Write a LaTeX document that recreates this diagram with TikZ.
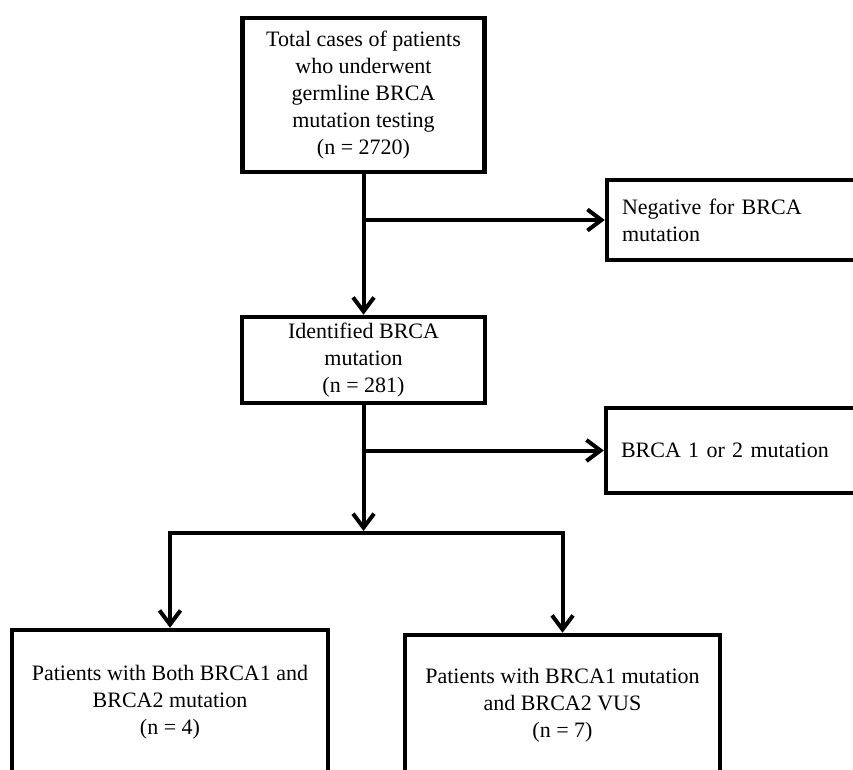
\documentclass[tikz,border=0pt]{standalone}
\usepackage{fontspec}
\setmainfont{Liberation Serif}
\usetikzlibrary{arrows.meta, positioning}

\begin{document}
\begin{tikzpicture}[x=1pt, y=-1pt,
	box/.style={draw, line width=4.5pt, rectangle, align=center, inner sep=0pt, font=\fontsize{22}{27}\selectfont},
	sidebox/.style={box, align=left, inner xsep=15pt, text width=233pt, minimum width=263pt},
	arr/.style={line width=4pt, -{Straight Barb[length=14pt, width=21pt]}}]
	\useasboundingbox (0,0) rectangle (853,770);
	\clip (0,0) rectangle (853,770);
	
	% --- 主干 ---
	\node[box, minimum width=242pt, minimum height=154pt] (total) at (363.5,95) {Total cases of patients\\who underwent\\germline BRCA\\mutation testing\\(n = 2720)};
	\node[box, minimum width=243pt, minimum height=86pt] (ident) at (363.5,360) {Identified BRCA\\mutation\\(n = 281)};
	
	% --- 右侧分支 (超出右边) ---
	\node[sidebox, minimum height=80pt] (neg) at (738.5,220) {Negative for BRCA\\mutation};
	\node[sidebox, minimum height=85pt] (brca) at (737.5,450.5) {BRCA 1 or 2 mutation};
	
	% --- 底部两框 (超出下边) ---
	\node[box, minimum width=316pt, minimum height=144pt] (both) at (170,702) {Patients with Both BRCA1 and\\BRCA2 mutation\\(n = 4)};
	\node[box, minimum width=315pt, minimum height=140pt] (vus) at (562.5,705) {Patients with BRCA1 mutation\\and BRCA2 VUS\\(n = 7)};
	
	% --- 连线 ---
	\draw[arr] (total) -- (ident);
	\coordinate (j1) at (total.south |- neg.west);
	\draw[arr] (j1) -- (neg.west);
	
	\coordinate (j2) at (ident.south |- brca.west);
	\draw[arr] (j2) -- (brca.west);
	
	\coordinate (split) at (363.5,533);
	\draw[arr, shorten >=2pt] (ident.south) -- (split);
	\draw[arr] (split) -| (both.north);
	\draw[arr] (split) -| (vus.north);
\end{tikzpicture}
\end{document}
